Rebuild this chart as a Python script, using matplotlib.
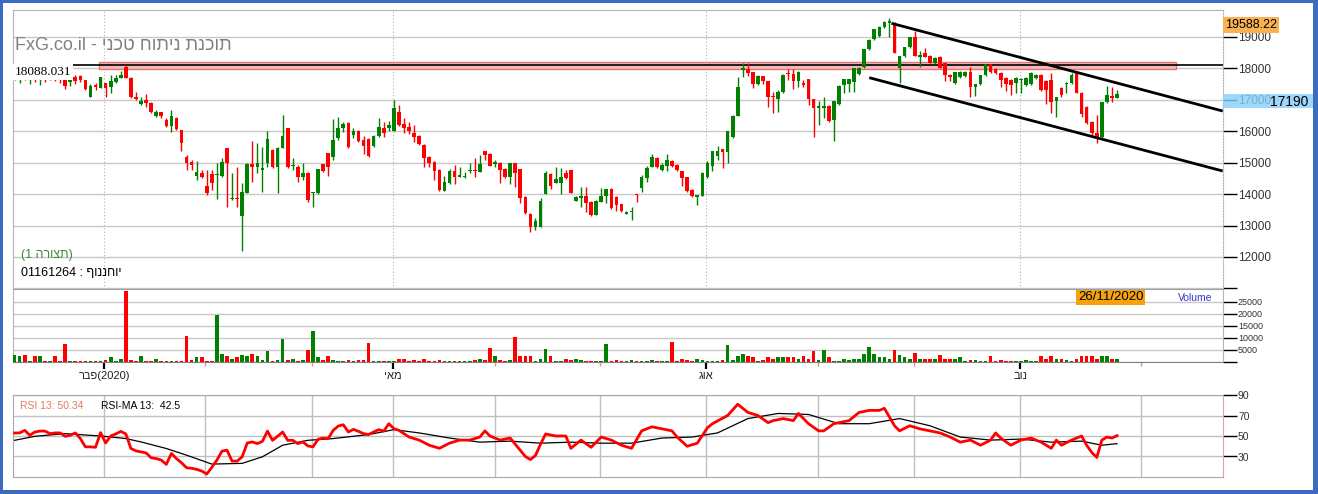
import re
import matplotlib
matplotlib.use("Agg")
import matplotlib.pyplot as plt
import numpy as np
from matplotlib.patches import Rectangle

W, H, DPI = 1318, 494, 100
plt.rcParams['font.family'] = ['Liberation Sans', 'DejaVu Sans']

# ---------------- data ----------------
opens = [17752, 17688, 17879, 17688, 17847, 17656, 17815, 17720, 17847, 17752,
         17625, 17561, 17720, 17752, 17625, 17085, 17466, 17370, 17529, 17402,
         17561, 17688, 18040, 17688, 17085, 16862, 16989, 16894, 16481, 16608,
         16354, 16163, 16417, 16036, 15178, 15019, 14574, 14669, 14256, 14637,
         14590, 14574, 15464, 13830, 13860, 13302, 14034, 14955, 14860, 14780,
         14987, 15400, 14860, 15464, 16099, 14880, 14860, 14542, 14669, 14020,
         14034, 14955, 15305, 15178, 15781, 16099, 16258, 15877, 16004, 15718,
         15750, 15527, 15845, 16099, 16099, 16004, 16608, 16226, 16131, 15940,
         15845, 15559, 15178, 15019, 14765, 14097, 14352, 14733, 14542, 14530,
         14720, 14750, 14701, 15368, 15273, 14970, 14987, 14796, 14542, 14987,
         14796, 13906, 13366, 12953, 12953, 14002, 14637, 14352, 14352, 14669,
         14765, 13779, 13875, 13938, 13748, 13334, 13748, 13938, 14161, 13906,
         13684, 13380, 13420, 13980, 14192, 14510, 14860, 15146, 14765, 14892,
         15051, 14923, 14733, 14542, 14129, 13920, 13938, 14542, 14892, 15209,
         15432, 15336, 15813, 16481, 17942, 17974, 17879, 17498, 17752, 17593,
         17100, 17021, 17243, 17830, 17815, 17593, 17510, 17656, 17021, 16735,
         16750, 16798, 16354, 16862, 17466, 17498, 17561, 17815, 18038, 18610,
         18928, 19023, 19309, 19450, 19436, 18006, 18387, 18673, 18991, 18370,
         18483, 18387, 18165, 18356, 18165, 17784, 17529, 17720, 17752, 17879,
         17402, 17498, 17784, 18133, 17974, 17847, 17688, 17625, 17529, 17610,
         17466, 17498, 17688, 17784, 17593, 17625, 16958, 17370, 17510, 17529,
         17847, 17212, 16767, 16290, 15940, 15813, 16926, 17116, 17053]
highs = [18006, 17942, 17942, 17911, 17911, 17879, 17879, 17911, 17879, 17815,
         17688, 17752, 17784, 17784, 17625, 17498, 17529, 17720, 17529, 17784,
         17784, 17911, 18088, 17720, 17243, 17085, 17180, 16926, 16671, 16608,
         16417, 16671, 16449, 16036, 15241, 15082, 15051, 14765, 14765, 14765,
         14987, 15146, 15464, 14669, 14860, 14352, 14987, 15686, 15622, 15495,
         16004, 15432, 15495, 16513, 16099, 15146, 14923, 14987, 14701, 14065,
         14796, 14955, 15305, 16385, 16449, 16290, 16290, 16099, 16036, 15845,
         15781, 15877, 16417, 16290, 16322, 16989, 16830, 16417, 16290, 16195,
         15877, 15591, 15209, 15051, 14796, 14574, 14796, 14923, 14860, 14701,
         14987, 15146, 15241, 15368, 15305, 15082, 15019, 14828, 14987, 14987,
         14796, 13938, 13398, 13239, 13875, 14733, 14669, 14860, 14828, 14765,
         14765, 13938, 14224, 14224, 13779, 13811, 14192, 14161, 14192, 13938,
         13684, 13462, 13589, 13990, 14606, 14892, 15273, 15178, 14987, 15273,
         15082, 14955, 14733, 14542, 14161, 13950, 14701, 15051, 15368, 15527,
         15432, 16004, 16513, 17720, 18165, 18165, 17879, 17784, 17752, 17593,
         17243, 17307, 17815, 17974, 17974, 17911, 17625, 17656, 17021, 16958,
         17085, 16830, 16958, 17466, 17656, 17656, 18006, 18038, 18610, 18928,
         19245, 19340, 19500, 19588.22, 19468, 18387, 18673, 18991, 19182, 18546,
         18642, 18420, 18356, 18387, 18165, 17800, 17879, 17911, 17911, 18038,
         17498, 17784, 18133, 18133, 18006, 17879, 17720, 17656, 17720, 17688,
         17720, 17879, 17815, 17815, 17625, 17847, 17085, 17402, 17560, 17847,
         17879, 17243, 16798, 16322, 16513, 16926, 17434, 17402, 17307]
lows = [17625, 17529, 17625, 17498, 17561, 17466, 17561, 17625, 17593, 17529,
        17339, 17434, 17498, 17561, 17307, 17085, 17307, 17370, 17085, 17212,
        17529, 17688, 17688, 17053, 16989, 16830, 16767, 16576, 16449, 16417,
        16131, 15972, 16036, 15368, 14765, 14765, 14447, 14510, 13970, 14129,
        13843, 14542, 13589, 13811, 13589, 12190, 14034, 14383, 14669, 14065,
        14860, 14828, 14034, 15464, 14828, 14765, 14383, 14447, 13748, 13589,
        14002, 14701, 14574, 15082, 15718, 15972, 15464, 15781, 15654, 15273,
        15178, 15495, 15813, 15813, 16004, 16004, 16163, 15940, 15909, 15654,
        15559, 14860, 14860, 14447, 14097, 14097, 14320, 14320, 14542, 14510,
        14669, 14542, 14701, 15082, 14892, 14860, 14352, 14510, 14320, 14224,
        13716, 13366, 12794, 12858, 12953, 14002, 14161, 14352, 14002, 14479,
        14034, 13779, 13589, 13430, 13302, 13334, 13748, 13716, 13525, 13462,
        13430, 13366, 13175, 13748, 14065, 14383, 14860, 14828, 14733, 14733,
        14860, 14733, 14256, 14065, 13906, 13652, 13938, 14510, 14733, 15082,
        14828, 14987, 15781, 16481, 17720, 17752, 17370, 17466, 17498, 16767,
        16576, 16608, 17212, 17625, 17339, 17402, 17402, 16830, 15813, 16195,
        16417, 16290, 15686, 16830, 17212, 17243, 17243, 17784, 18006, 18578,
        18896, 18991, 19277, 18991, 18483, 17529, 18356, 18642, 18387, 18038,
        18356, 18165, 18133, 18006, 17593, 17593, 17498, 17688, 17720, 17085,
        17116, 17466, 17752, 17847, 17815, 17402, 17275, 17148, 17212, 17212,
        17434, 17466, 17656, 17275, 16862, 16576, 16449, 17085, 17212, 17498,
        17212, 16449, 16226, 15813, 15622, 15781, 16894, 16926, 17053]
closes = [17942, 17879, 17720, 17847, 17656, 17815, 17688, 17847, 17688, 17625,
          17434, 17688, 17593, 17625, 17339, 17434, 17402, 17720, 17370, 17593,
          17688, 17784, 17688, 17085, 17021, 16958, 16894, 16608, 16608, 16481,
          16163, 16481, 16067, 15622, 14987, 14923, 14701, 14542, 14034, 14352,
          14620, 15019, 14987, 13860, 13830, 14065, 14955, 14860, 14987, 14810,
          15750, 14860, 15464, 15845, 14860, 14910, 14542, 14669, 13811, 14050,
          14796, 14733, 14860, 15718, 16099, 16226, 15495, 16004, 15686, 15527,
          15209, 15845, 16131, 15940, 16195, 16735, 16195, 16099, 16004, 15813,
          15591, 15146, 14987, 14733, 14129, 14383, 14733, 14542, 14606, 14560,
          14750, 14720, 14955, 15241, 14892, 15000, 14765, 14542, 14987, 14669,
          13875, 13398, 12953, 13143, 13779, 14669, 14256, 14479, 14542, 14510,
          14034, 13906, 13938, 13716, 13334, 13779, 13938, 14161, 13557, 13652,
          13462, 13400, 13440, 13960, 14542, 14828, 15178, 14860, 14923, 15082,
          14892, 14765, 14510, 14097, 13938, 13950, 14669, 14987, 15368, 15368,
          15336, 16004, 16481, 17402, 18006, 17847, 17498, 17752, 17593, 17085,
          17070, 17243, 17784, 17800, 17593, 17879, 17480, 17021, 16735, 16798,
          16780, 16322, 16958, 17434, 17656, 17656, 18006, 18006, 18610, 18896,
          19245, 19309, 19468, 19480, 18483, 18387, 18673, 18991, 18387, 18400,
          18356, 18165, 18324, 18006, 17784, 17720, 17879, 17879, 17879, 17402,
          17498, 17784, 18133, 17879, 17847, 17625, 17498, 17466, 17688, 17640,
          17688, 17847, 17784, 17307, 17307, 16926, 17085, 17148, 17540, 17784,
          17212, 16544, 16258, 15940, 15781, 16926, 17148, 17053, 17190]
volumes = [2900, 2500, 2900, 400, 2100, 2500, 400, 400, 2500, 400,
           7100, 400, 400, 400, 400, 400, 400, 400, 800, 1700,
           400, 1250, 29600, 800, 400, 2500, 400, 400, 1250, 400,
           400, 400, 400, 400, 10800, 800, 1700, 1700, 400, 400,
           19200, 3300, 2100, 1250, 1700, 2900, 2100, 3300, 2500, 800,
           4200, 400, 800, 9200, 800, 1250, 400, 800, 4600, 12900,
           1700, 800, 2100, 800, 400, 400, 800, 400, 800, 800,
           7900, 400, 400, 400, 400, 400, 1250, 1250, 400, 800,
           400, 1250, 400, 400, 800, 400, 400, 400, 400, 400,
           400, 800, 1250, 800, 5800, 2100, 800, 400, 800, 10400,
           2100, 2100, 2100, 400, 1250, 5400, 2100, 400, 400, 1250,
           800, 1250, 800, 400, 400, 400, 400, 7500, 400, 800,
           400, 400, 800, 400, 400, 400, 800, 400, 400, 400,
           8300, 400, 1250, 800, 400, 1250, 800, 400, 400, 400,
           800, 6700, 800, 2100, 3300, 2500, 1700, 400, 800, 1700,
           1250, 1700, 1700, 1700, 1700, 1250, 2500, 1250, 4200, 800,
           4600, 1700, 400, 400, 1250, 800, 1250, 1250, 3300, 6200,
           3300, 1700, 1700, 1250, 5000, 2900, 1700, 1250, 3750, 1250,
           1250, 1250, 1250, 2900, 1250, 1250, 1250, 1700, 400, 800,
           800, 400, 400, 2100, 400, 800, 400, 400, 400, 400,
           800, 400, 400, 2100, 1250, 2500, 1250, 1250, 800, 400,
           1250, 2500, 2100, 2100, 1250, 2100, 2100, 1250, 1250]

rsi_idx = list(range(77)) + [78, 80, 82, 84, 86, 88, 90, 92, 93, 94, 96, 98, 100, 101, 102,
                             103, 104, 105, 107, 109, 110, 112, 114, 116, 118, 120, 122, 124,
                             126, 128, 130, 131, 133, 135, 137, 138, 141, 143, 144, 145, 147,
                             149, 150, 152, 154, 155, 156, 157, 159, 160, 162, 163, 165, 167,
                             169, 171, 172, 174, 175, 177, 179, 181, 183, 185, 187, 189, 191,
                             193, 194, 195, 197, 199, 201, 203, 205, 206, 207, 209, 211, 212,
                             213, 214, 215, 216, 217, 218]
rsi_vals = [52.9, 53, 55.5, 50.7, 53.9, 54.8, 54.8, 52.3, 53, 53,
            49.7, 50.7, 53, 47.5, 39.4, 39.4, 39, 53.3, 43.2, 50,
            52, 54.5, 52, 37.8, 35.5, 34.5, 33.5, 28.7, 28, 26.5,
            22.3, 33, 28, 23.9, 19, 18.5, 17.5, 15.8, 12.9, 19.4,
            26.5, 35.2, 36.2, 25.5, 25.5, 29.7, 43.2, 44.2, 42.6, 44.8,
            54.8, 45.8, 49.7, 53.9, 45.8, 45.8, 42.6, 44.2, 40.3, 39.4,
            46.8, 48, 47.5, 55.5, 59.7, 61, 53.9, 56.5, 54.5, 52.3,
            51.4, 53.9, 56.2, 54.8, 62, 57.2, 55.5,
            49, 46, 41, 38, 43, 46, 46, 49, 55, 50, 46, 48, 36, 30, 27,
            31, 42, 52, 50, 50, 38, 46, 39, 49, 46, 41, 38, 55,
            59, 57, 55, 49, 40, 43, 58, 62, 70, 81, 77, 73, 70,
            63, 65, 67, 65, 72, 67, 62, 55, 55, 62, 63, 65, 73,
            75, 75, 77, 60, 55, 60, 57, 55, 53, 49, 44, 46, 41,
            46, 53, 48, 41, 46, 48, 44, 38, 46, 41, 46, 50, 41,
            34, 29, 46, 49, 48, 50.34]
ma_idx = [0, 4, 10, 17, 22, 25, 30, 34, 39, 45, 49, 53, 58, 63, 70, 75, 80, 86, 92, 98,
          104, 110, 116, 122, 128, 134, 139, 145, 151, 157, 163, 169, 175, 181, 187,
          193, 199, 205, 211, 215, 218]
ma_vals = [45.8, 49.7, 52.3, 50, 47.5, 44.2, 37.8, 31.3, 22.6, 23.3, 29.7, 41, 45.8,
           47.5, 51.4, 56.2, 53, 48, 44, 45, 43, 44, 43, 43, 48, 49, 53, 67, 72, 71,
           62, 62, 67, 60, 49, 46, 47, 44, 45, 41, 42.5]

price_ticks = [11000, 12000, 13000, 14000, 15000, 16000, 17000, 18000, 19000]
volume_ticks = [0, 5000, 10000, 15000, 20000, 25000]
rsi_ticks = [30, 50, 70, 90]
month_pos = [17.7, 37.6, 58.9, 74.8, 94.9, 115.8, 136.7, 158.9, 177.9, 198.9, 222.7]
month_labels = ['פבר(2020)', '', '', 'מאי', '', '', 'אוג', '', '', 'נוב', '']
resistance = 18088.031
res_band = (16.7, 229.7, 17984, 18187)
channel_upper = ([173.4, 238.9], [19426, 16639])
channel_lower = ([169.0, 238.9], [17698, 14733])
title = 'FxG.co.il - תוכנת ניתוח טכני'
stock_label = '01161264 : יוחננוף'
layout_label = '(תצורה 1)'
last_date = '26/11/2020'


def visual(s):
    """Display helper (left-to-right base): lay out Hebrew runs right-to-left."""
    return re.sub(r'[\u0590-\u05FF]+(?:\s+[\u0590-\u05FF]+)*', lambda m: m.group(0)[::-1], s)


def visual_rtl(s):
    """Display helper (right-to-left base paragraph)."""
    mirror = {'(': ')', ')': '('}
    runs = re.findall(r'\d+|\D', s)
    return ''.join(mirror.get(r, r) for r in reversed(runs))


# ---------------- helpers ----------------
def fx(px):
    return px / W


def fy(py):
    return 1 - py / H


GREEN = '#008000'
RED = '#ff0000'
GRID = '#c8c8c8'
SPINE = '#b4b4b4'

fig = plt.figure(figsize=(W / DPI, H / DPI), dpi=DPI)
fig.patch.set_facecolor('white')

L, R = 13, 1222.7
ax = fig.add_axes([fx(L), fy(289), fx(R) - fx(L), fy(10) - fy(289)])
axv = fig.add_axes([fx(L), fy(361.5), fx(R) - fx(L), fy(289) - fy(361.5)])
axr = fig.add_axes([fx(L), fy(477), fx(R) - fx(L), fy(395) - fy(477)])
XLIM = (-0.32, 238.9)

o = np.array(opens, float)
c = np.array(closes, float)
hi = np.array(highs, float)
lo = np.array(lows, float)
idx = np.arange(len(c))
colors = np.where(c >= o, GREEN, RED)

# ---- main price panel ----
ax.set_xlim(*XLIM)
ax.set_ylim(10983, 19849)
ax.add_patch(Rectangle((res_band[0], res_band[2]), res_band[1] - res_band[0],
                       res_band[3] - res_band[2], facecolor='#f6b8b8',
                       edgecolor='#e07878', lw=1, zorder=2))
ax.axhline(resistance, color='black', lw=1.2, zorder=2.5)
ax.vlines(idx, lo, hi, colors=colors, lw=1, zorder=3)
ax.bar(idx, np.maximum(np.abs(c - o), 35), bottom=np.minimum(o, c), width=0.72,
       color=colors, linewidth=0, zorder=4)
ax.plot(*channel_upper, color='black', lw=2, zorder=5, solid_capstyle='butt')
ax.plot(*channel_lower, color='black', lw=2, zorder=5, solid_capstyle='butt')

ax.yaxis.tick_right()
ax.set_yticks(price_ticks)
ax.set_yticklabels([''] + [str(v) for v in price_ticks[1:]])
ax.tick_params(axis='y', length=10, width=1, color='black', labelcolor='#333333',
               labelsize=8.5, pad=1)
ax.set_xticks([p for p, l in zip(month_pos, month_labels) if l])
ax.tick_params(axis='x', bottom=False, labelbottom=False)
ax.grid(axis='y', color=GRID, lw=1, zorder=0)
ax.grid(axis='x', color='#b0b0b0', lw=0.8, ls=(0, (1, 2)), zorder=0)
ax.set_axisbelow(True)
for s in ax.spines.values():
    s.set_color(SPINE)
    s.set_linewidth(0.8)
ax.spines['right'].set_linestyle((0, (1, 1.5)))

# ---- volume panel ----
axv.set_xlim(*XLIM)
axv.set_ylim(0, 30250)
axv.bar(idx, volumes, width=0.72, color=colors, linewidth=0, zorder=3)
axv.yaxis.tick_right()
axv.set_yticks(volume_ticks)
axv.set_yticklabels([''] + [str(v) for v in volume_ticks[1:]])
axv.tick_params(axis='y', length=10, width=1, color='black', labelcolor='#333333',
                labelsize=6.5, pad=1)
axv.grid(axis='y', color=GRID, lw=1, zorder=0)
axv.set_axisbelow(True)
major = [(p, l) for p, l in zip(month_pos, month_labels) if l]
minor = [p for p, l in zip(month_pos, month_labels) if not l]
axv.set_xticks([p for p, _ in major])
axv.set_xticklabels([visual(l) for _, l in major], fontsize=8, color='#222222')
axv.set_xticks(minor, minor=True)
axv.tick_params(axis='x', which='major', length=5, width=1.6, color='black', pad=2)
axv.tick_params(axis='x', which='minor', length=3, width=1, color='#e09090')
for s in axv.spines.values():
    s.set_color(SPINE)
    s.set_linewidth(0.8)
axv.spines['top'].set_linestyle((0, (2, 1)))
axv.spines['top'].set_color('#a0a0a0')
axv.spines['bottom'].set_color('#808080')

# ---- RSI panel ----
axr.set_xlim(*XLIM)
axr.set_ylim(10, 90)
axr.plot(ma_idx, ma_vals, color='black', lw=0.9, zorder=3)
axr.plot(rsi_idx, rsi_vals, color='#ff0000', lw=2, zorder=4)
axr.yaxis.tick_right()
axr.set_yticks(rsi_ticks)
axr.tick_params(axis='y', length=10, width=1, color='black', labelcolor='#333333',
                labelsize=7.5, pad=1)
axr.set_xticks(month_pos)
axr.tick_params(axis='x', bottom=False, labelbottom=False)
axr.grid(axis='both', color='#c0c0c0', lw=1, zorder=0)
axr.set_axisbelow(True)
for s in axr.spines.values():
    s.set_color('#a8a8a8')
    s.set_linewidth(0.8)
axr.spines['right'].set_color('#d8a8a8')

# ---- texts / labels ----
fig.text(fx(15), fy(46), visual(title), fontsize=13, color='#808080', va='center', ha='left')
fig.text(fx(14.5), fy(72), f'{resistance:.3f}', fontsize=9.5, family='Liberation Serif',
         color='black', va='center', ha='left',
         bbox=dict(boxstyle='square,pad=0.12', fc='white', ec='none'))
fig.text(fx(21), fy(255), visual_rtl(layout_label), fontsize=9, color='#3d8b3d',
         va='center', ha='left')
fig.text(fx(21), fy(273), visual(stock_label), fontsize=9, color='black', va='center',
         ha='left')

fig.text(fx(1225), fy(25), f'{max(highs):.2f}', fontsize=9, color='black', va='center',
         ha='left', zorder=6,
         bbox=dict(boxstyle='square,pad=0.18', fc='#f8b250', ec='none'))
fig.add_artist(Rectangle((fx(1222.7), fy(108.3)), fx(1313) - fx(1222.7), fy(94) - fy(108.3),
                         transform=fig.transFigure, fc='#87cefa', alpha=0.8, ec='none',
                         zorder=5))
fig.text(fx(1270), fy(101.5), f'{closes[-1]}', fontsize=10, color='black', va='center',
         ha='left', zorder=6)

fig.text(fx(1078), fy(297.5), last_date, fontsize=9.5, color='black', va='center', ha='left',
         zorder=6, bbox=dict(boxstyle='square,pad=0.15', fc='#f5a20f', ec='none'))
fig.text(fx(1178), fy(298), 'Volume', fontsize=7.5, color='#3434c8', va='center', ha='left')

fig.text(fx(20), fy(406), f'RSI 13: {rsi_vals[-1]:.2f}', fontsize=7.5, color='#e07a64',
         va='center', ha='left')
fig.text(fx(101), fy(406), f'RSI-MA 13:  {ma_vals[-1]}', fontsize=7.5, color='black',
         va='center', ha='left')

# ---- blue frame ----
FRAME = '#3a6dbf'
for (x0, y0, x1, y1) in [(0, 0, 3, H), (W - 5, 0, W, H), (0, 0, W, 3), (0, H - 4, W, H)]:
    fig.add_artist(Rectangle((fx(x0), fy(y1)), fx(x1) - fx(x0), fy(y0) - fy(y1),
                             transform=fig.transFigure, fc=FRAME, ec='none', zorder=10))

fig.savefig('out.png', dpi=DPI)
